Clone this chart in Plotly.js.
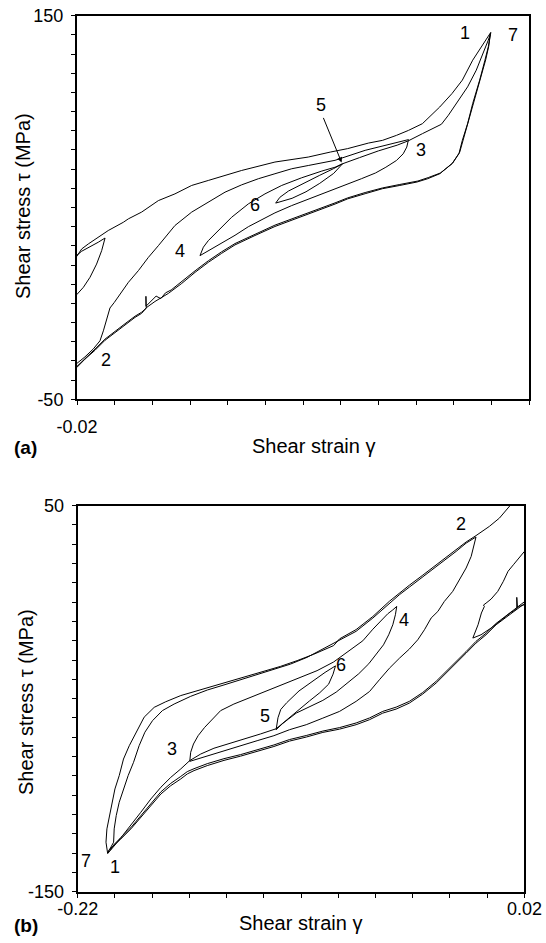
<!DOCTYPE html>
<html><head><meta charset="utf-8">
<script src="https://cdn.plot.ly/plotly-3.0.1.min.js"></script>
<style>html,body{margin:0;padding:0;background:#fff;}#chart{width:546px;height:943px;}</style>
</head><body><div id="chart"></div>
<script>
// ---------- Panel (a): tick values / labels ----------
const aXTicks = [-0.02,0,0.02,0.04,0.06,0.08,0.10,0.12,0.14,0.16,0.18,0.20,0.22];
const aXTickText = ['-0.02','','','','','','','','','','','','0.22'];
const aYTicks = [-50,-40,-30,-20,-10,0,10,20,30,40,50,60,70,80,90,100,110,120,130,140,150];
const aYTickText = ['-50','','','','','','','','','','','','','','','','','','','','150'];

// ---------- Panel (a): branches (shear strain gamma, shear stress tau) ----------
const aPreGamma = [-0.0202,-0.0166,-0.0131,-0.0096,-0.0069,-0.0051,-0.0087,-0.014,-0.0175,-0.0202];
const aPreTau   = [4.5,8.4,13.6,20.5,27.5,34.1,31.9,29.3,27.2,25];

const aLoadGamma = [-0.0202,-0.0175,-0.014,-0.0087,-0.0034,0.0046,0.0073,0.0143,0.0232,0.032,0.0409,0.0497,0.0674,0.0851,0.1028,0.1145,0.1237,0.1348,0.1422,0.1496,0.156,0.1634,0.1726,0.1791,0.1846,0.1901,0.1957,0.1997];
const aLoadTau   = [24.4,28.4,31,34.5,38,42.3,44.1,47.6,53.6,57.1,61.5,64.1,69.3,73.7,76.3,78.9,80.7,83.6,85,87.6,90.2,93.7,102.4,109.4,116.4,126.8,135.5,141.3];

const aUnload1Gamma = [0.1997,0.1994,0.1984,0.1966,0.1938,0.1901,0.1874,0.1846,0.1828,0.1791,0.1726,0.1662,0.1606,0.1514,0.1422,0.133,0.1237,0.117,0.1028,0.0851,0.0745,0.0639,0.0568,0.0497,0.0427,0.0356,0.0285,0.025,0.0214,0.017,0.0143,0.0108,0.0055,0.0002,-0.0051,-0.0104,-0.0158,-0.0202];
const aUnload1Tau   = [141.3,139,133.8,126.8,116.4,104.2,93.7,85,78.1,72.8,67.6,65,63.3,61.5,59.8,57.2,54.5,51.8,46.7,40.1,35.4,30.5,26.1,21.4,16.2,10.4,5.2,3.1,1,-2.1,-5.2,-7.3,-11.2,-15.2,-19.2,-24.4,-29.1,-33.5];

const aReload2Gamma = [-0.0202,-0.0158,-0.0113,-0.0078,-0.006,-0.0042,-0.0025,-0.0002,0.0028,0.0073,0.0126,0.0179,0.0232,0.032,0.0409,0.0497,0.0586,0.0674,0.0763,0.0851,0.094,0.1028,0.117,0.133,0.1422,0.1496,0.156];
const aReload2Tau   = [-31.4,-27.9,-23.7,-19.5,-14.3,-8.2,-2.4,0.5,4.9,11,17.1,24,30.1,40.6,47.6,52.8,58,61.8,65,67.6,70.2,71.9,74.6,79.8,81.9,83.6,85.4];

const aUnload3Gamma = [0.156,0.1551,0.1532,0.1496,0.144,0.1385,0.131,0.1237,0.1145,0.1053,0.094,0.0851,0.0781,0.071,0.0639,0.0568,0.0497,0.0453];
const aUnload3Tau   = [85.4,81.5,78,74.5,71,68,65,62.2,59,55.5,51,47.2,43.8,40,35.5,31.5,27.5,24.9];

const aReload4Gamma = [0.0453,0.0471,0.0497,0.055,0.0621,0.071,0.0798,0.0887,0.0993,0.11,0.117,0.121];
const aReload4Tau   = [24.9,29.3,32.7,38,44.9,51.9,57.1,61.5,65.5,69,71,72.8];

const aUnload5Gamma = [0.121,0.1163,0.1089,0.1016,0.0942,0.0868,0.0855];
const aUnload5Tau   = [72.8,67.8,62.6,58.2,54.8,52.6,52.3];

const aReload6Gamma = [0.0855,0.0877,0.0923,0.0997,0.1089,0.1163,0.121,0.13,0.14,0.15,0.156,0.1634,0.1735,0.1772,0.1828,0.1874,0.192,0.1957,0.1984,0.1997];
const aReload6Tau   = [52.3,55.3,58.6,62.4,66.8,70.3,72.8,76,79.5,82.5,84.8,88.5,93.4,98.1,105.9,112.9,121.6,130.3,137.3,141];

const aUnload7Gamma = [0.1994,0.1986,0.197,0.1942,0.1905,0.1878,0.185,0.1832,0.1795,0.173,0.1665,0.161,0.1514,0.1422,0.133,0.1237,0.117,0.1028,0.0851,0.0745,0.0639,0.0568,0.0497,0.0427,0.0356,0.03,0.027,0.0245,0.022,0.019,0.0166,0.0166,0.0168,0.0143,0.0108,0.0055,0.0002,-0.0051,-0.0104,-0.0158,-0.0202];
const aUnload7Tau   = [140,134,127,117,105,94.5,85.5,78.8,73.2,68,65.6,63.8,62,60.2,57.8,55,52.4,47.3,40.8,36,31.2,26.9,22.2,17,11.2,7,5.5,2.5,3.8,1,-1.5,3.7,-2.5,-4.6,-6.7,-10.6,-14.6,-18.6,-23.8,-28.6,-33];

// ---------- Panel (b): tick values / labels ----------
const bXTicks = [-0.22,-0.20,-0.18,-0.16,-0.14,-0.12,-0.10,-0.08,-0.06,-0.04,-0.02,0,0.02];
const bXTickText = ['-0.22','','','','','','','','','','','','0.02'];
const bYTicks = [-150,-140,-130,-120,-110,-100,-90,-80,-70,-60,-50,-40,-30,-20,-10,0,10,20,30,40,50];
const bYTickText = ['-150','','','','','','','','','','','','','','','','','','','','50'];

// ---------- Panel (b): branches ----------
const bLoadGamma = [0.02,0.0155,0.0102,0.0048,-0.0006,-0.006,-0.0113,-0.0167,-0.0221,-0.0274,-0.0346,-0.0418,-0.0489,-0.0561,-0.0632,-0.0704,-0.0793,-0.0883,-0.0972,-0.1062,-0.1146,-0.1236,-0.1325,-0.1414,-0.1504,-0.1575,-0.1611,-0.1646,-0.17,-0.1753,-0.1807,-0.1861,-0.1914,-0.1968,-0.2004,-0.203,-0.2039];
const bLoadTau   = [-0.8,-3.9,-7.7,-11.7,-16.9,-21.2,-26.4,-31.6,-36.7,-41.9,-47.6,-52.3,-55.4,-57.5,-60.9,-63.5,-65.8,-67.5,-69.9,-72,-74.8,-77.5,-79.8,-82,-84.7,-87.3,-89,-91.6,-95.1,-99.4,-105.4,-111.5,-117.5,-122.7,-125.8,-128.2,-130];

const bLoad2Gamma = [0.02,0.0155,0.0102,0.0048,-0.0006,-0.006,-0.0113,-0.0167,-0.0221,-0.0274,-0.0346,-0.0418,-0.0489,-0.0561,-0.0632,-0.0704,-0.0793,-0.0883,-0.0972,-0.1062,-0.1146,-0.1236,-0.1325,-0.1414,-0.1504,-0.1575,-0.1611,-0.1646,-0.17,-0.1753,-0.1807,-0.1861,-0.1914,-0.1968,-0.2004,-0.2025];
const bLoad2Tau   = [0.2,-3.1,-6.8,-11,-16.1,-20.3,-25.6,-30.9,-36,-41,-46.8,-51.4,-54.4,-56.6,-60,-62.6,-65,-66.8,-69.1,-71.2,-74,-76.7,-79,-81.1,-83.7,-86.3,-87.8,-90.3,-93.9,-98.3,-104.4,-110.6,-116.8,-122,-125.5,-128.5];

const bUp1Gamma = [-0.2039,-0.2007,-0.2004,-0.1993,-0.1977,-0.1954,-0.1929,-0.19,-0.187,-0.1839,-0.1798,-0.1745,-0.1682,-0.1593,-0.1503,-0.1414,-0.1325,-0.1236,-0.1146,-0.1057,-0.0968,-0.0883,-0.0793,-0.0704,-0.0614,-0.0561,-0.0525,-0.0471,-0.0418,-0.0346,-0.0274,-0.0221,-0.0167,-0.0113,-0.006];
const bUp1Tau   = [-130,-124.4,-117.5,-110.6,-103.7,-96.8,-89.9,-83,-74.4,-67.4,-61.4,-56.2,-52.8,-48.8,-45.5,-42.9,-40.2,-37.7,-35,-32.1,-28.6,-24.3,-19.8,-15.1,-8.2,-3.6,-0.5,3.9,7.8,13,18.6,22,26.3,30.6,33.8];

const b2to3Gamma = [-0.006,-0.0072,-0.0086,-0.0113,-0.0149,-0.0185,-0.023,-0.0265,-0.0301,-0.0337,-0.0373,-0.0418,-0.0471,-0.0525,-0.0579,-0.0632,-0.0704,-0.0793,-0.0883,-0.0972,-0.1062,-0.1146,-0.1236,-0.1325,-0.1414,-0.1504,-0.1575,-0.1598];
const b2to3Tau   = [33.8,28.9,23.7,17.7,11.6,5.6,0.4,-4.8,-8.2,-14.3,-19.5,-24.3,-29,-34.2,-40.2,-46.3,-51.4,-56.6,-60.1,-63.5,-66.1,-69.2,-71.8,-74.4,-77,-79.5,-81.6,-82.5];

const b3to4Gamma = [-0.1598,-0.1593,-0.1578,-0.1553,-0.1518,-0.1477,-0.1432,-0.1361,-0.1271,-0.1182,-0.1093,-0.1003,-0.0914,-0.0825,-0.074,-0.0668,-0.0614,-0.057,-0.0534,-0.0507,-0.0486];
const b3to4Tau   = [-82.5,-77.8,-73.5,-69.2,-64.9,-60.5,-56.2,-52.8,-49.3,-45.9,-42.4,-39,-35.5,-31,-25,-20,-14,-9.5,-6,-4,-2.2];

const b4to5Gamma = [-0.0486,-0.0493,-0.0507,-0.0529,-0.0557,-0.0593,-0.0636,-0.069,-0.0749,-0.0811,-0.0883,-0.0955,-0.1026,-0.1067,-0.11,-0.1134];
const b4to5Tau   = [-2.2,-6.5,-11.7,-16.9,-22.1,-26.7,-31.9,-37.1,-41.9,-46.6,-50.9,-54.4,-57.5,-60.5,-63,-66.1];

const b5to6Gamma = [-0.1134,-0.1124,-0.1109,-0.1077,-0.1011,-0.0936,-0.0871,-0.0815];
const b5to6Tau   = [-66.1,-59.9,-55.6,-52.1,-46,-40.8,-36.4,-33];

const b6to7Gamma = [-0.0815,-0.0828,-0.0852,-0.0899,-0.0955,-0.1011,-0.1067,-0.1134,-0.1218,-0.1307,-0.1396,-0.1468,-0.1539,-0.1598,-0.1646,-0.17,-0.1753,-0.1807,-0.1861,-0.1914,-0.1959,-0.1995,-0.203,-0.2039];
const b6to7Tau   = [-33,-37.3,-42.5,-46.9,-51.2,-55.6,-59.9,-65.6,-68.3,-70.9,-73.5,-75.7,-78.7,-82.1,-86.4,-90.8,-95.9,-102,-108.9,-115.8,-121,-125.3,-129.3,-130.3];

const bUp7Gamma = [-0.2039,-0.2048,-0.2043,-0.203,-0.2016,-0.2,-0.1977,-0.1954,-0.1923,-0.1887,-0.1843,-0.1789,-0.1727,-0.1646,-0.1557,-0.1468,-0.1378,-0.1289,-0.12,-0.1111,-0.1021,-0.0932,-0.0825,-0.0793,-0.0704,-0.0614,-0.0525,-0.0471,-0.0418,-0.0346,-0.0274,-0.0221,-0.0167,-0.0113,-0.006,0.0012,0.0066,0.0123,0.014];
const bUp7Tau   = [-130.3,-124.4,-117.5,-110.6,-103.7,-96.8,-89.9,-81.3,-74.4,-67.4,-59.6,-54.5,-51.6,-48.4,-45.9,-43.3,-40.9,-38.5,-36,-33.3,-30.3,-27,-22.5,-19,-14.2,-7.4,0.5,4.8,8.8,14,19.3,23,27,31.2,34.5,39.3,43.6,50,52];

const bRightGamma = [0.02,0.0173,0.0141,0.0112,0.0087,0.0057,0.0021,-0.0006,-0.002,-0.0015,-0.0031,-0.0049,-0.0067,-0.0077,-0.0033,0.0021,0.0075,0.0123,0.0159,0.0159,0.0163,0.0173,0.02];
const bRightTau   = [26.3,23.4,19.4,16,10.8,5.6,1.6,-0.5,-1.5,-2.2,-5.6,-11.7,-16.4,-18.6,-16.9,-13.4,-9.4,-5.6,-3.5,2.5,-2.8,-2.2,-1.3];

// ---------- Point labels ----------
const aLabelText  = ['1','7','5','3','6','4','2'];
const aLabelGamma = [0.186,0.2114,0.1093,0.1625,0.0745,0.0348,-0.0045];
const aLabelTau   = [140.8,139.9,103.3,79.8,51.1,27.2,-29.6];
const bLabelText  = ['2','4','6','5','3','7','1'];
const bLabelGamma = [-0.0141,-0.0446,-0.0787,-0.1193,-0.1695,-0.2153,-0.1998];
const bLabelTau   = [40.6,-9.1,-32.4,-59,-76.1,-134.3,-137.3];

// ---------- Build ----------
const W = 546, H = 943;
const FONT = 'Liberation Sans, Arial, Helvetica, sans-serif';
function seg(g, t, xa, ya) {
  return {x: g, y: t, xaxis: xa, yaxis: ya, type: 'scatter', mode: 'lines',
          line: {color: '#000', width: 1}, hoverinfo: 'skip', showlegend: false, cliponaxis: true};
}
const traces = [
  seg(aPreGamma, aPreTau, 'x', 'y'),
  seg(aLoadGamma, aLoadTau, 'x', 'y'),
  seg(aUnload1Gamma, aUnload1Tau, 'x', 'y'),
  seg(aReload2Gamma, aReload2Tau, 'x', 'y'),
  seg(aUnload3Gamma, aUnload3Tau, 'x', 'y'),
  seg(aReload4Gamma, aReload4Tau, 'x', 'y'),
  seg(aUnload5Gamma, aUnload5Tau, 'x', 'y'),
  seg(aReload6Gamma, aReload6Tau, 'x', 'y'),
  seg(aUnload7Gamma, aUnload7Tau, 'x', 'y'),
  seg(bLoadGamma, bLoadTau, 'x2', 'y2'),
  seg(bLoad2Gamma, bLoad2Tau, 'x2', 'y2'),
  seg(bUp1Gamma, bUp1Tau, 'x2', 'y2'),
  seg(b2to3Gamma, b2to3Tau, 'x2', 'y2'),
  seg(b3to4Gamma, b3to4Tau, 'x2', 'y2'),
  seg(b4to5Gamma, b4to5Tau, 'x2', 'y2'),
  seg(b5to6Gamma, b5to6Tau, 'x2', 'y2'),
  seg(b6to7Gamma, b6to7Tau, 'x2', 'y2'),
  seg(bUp7Gamma, bUp7Tau, 'x2', 'y2'),
  seg(bRightGamma, bRightTau, 'x2', 'y2')
];

function axis(domain, range, vals, text, anchor, standoff) {
  return {domain: domain, range: range, tickmode: 'array', tickvals: vals, ticktext: text,
    ticks: 'outside', ticklen: 4, tickwidth: 1, tickcolor: '#000',
    showline: true, linecolor: '#000', linewidth: 2, mirror: true,
    showgrid: false, zeroline: false, anchor: anchor, fixedrange: true, automargin: false,
    ticklabelstandoff: standoff,
    tickfont: {family: FONT, size: 18, color: '#000'}};
}
const px = v => v / W, py = v => 1 - v / H;

const annotations = [];
function txt(x, y, s, opts) {
  annotations.push(Object.assign({xref: 'paper', yref: 'paper', x: px(x), y: py(y), text: s,
    showarrow: false, xanchor: 'center', yanchor: 'middle',
    font: {family: FONT, size: 20, color: '#000'}}, opts || {}));
}
txt(23, 206, 'Shear stress τ (MPa)', {textangle: -90});
txt(313, 446, 'Shear strain γ');
txt(25, 447, '<b>(a)</b>', {font: {family: FONT, size: 19, color: '#000'}});
txt(26, 702, 'Shear stress τ (MPa)', {textangle: -90});
txt(300, 923, 'Shear strain γ');
txt(26, 925, '<b>(b)</b>', {font: {family: FONT, size: 19, color: '#000'}});

aLabelText.forEach((s, i) => annotations.push({xref: 'x', yref: 'y', x: aLabelGamma[i], y: aLabelTau[i],
  text: s, showarrow: false, font: {family: FONT, size: 18, color: '#000'}}));
bLabelText.forEach((s, i) => annotations.push({xref: 'x2', yref: 'y2', x: bLabelGamma[i], y: bLabelTau[i],
  text: s, showarrow: false, font: {family: FONT, size: 18, color: '#000'}}));
// arrow from label 5 to reversal point 5 in panel (a)
annotations.push({xref: 'x', yref: 'y', axref: 'x', ayref: 'y', x: 0.1205, y: 73.5, ax: 0.1105, ay: 97.5,
  text: '', showarrow: true, arrowhead: 2, arrowsize: 1, arrowwidth: 1, arrowcolor: '#000', standoff: 0});

const layout = {
  width: W, height: H, margin: {l: 0, r: 0, t: 0, b: 0},
  paper_bgcolor: '#fff', plot_bgcolor: '#fff', showlegend: false,
  xaxis: axis([77 / W, 529 / W], [-0.02, 0.22], aXTicks, aXTickText, 'y', 6),
  yaxis: axis([py(399.3), py(15.7)], [-50, 150], aYTicks, aYTickText, 'x', 4),
  xaxis2: axis([77.7 / W, 524.4 / W], [-0.22, 0.02], bXTicks, bXTickText, 'y2', -4),
  yaxis2: axis([py(891.6), py(505.7)], [-150, 50], bYTicks, bYTickText, 'x2', 4),
  annotations: annotations
};
Plotly.newPlot('chart', traces, layout, {staticPlot: true, displayModeBar: false});
</script></body></html>
